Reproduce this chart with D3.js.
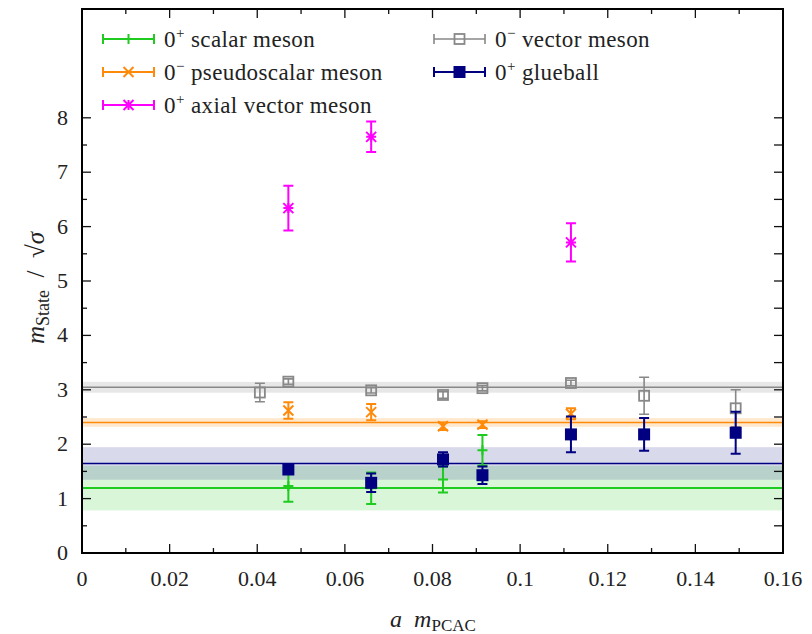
<!DOCTYPE html>
<html>
<head>
<meta charset="utf-8">
<script src="https://cdn.jsdelivr.net/npm/d3@7"></script>
<style>
  body { margin: 0; background: #fff; }
</style>
</head>
<body>
<div id="chart"></div>
<script>
// values
const scalarX = [0.0471, 0.0660, 0.0824, 0.0914]
const scalarY = [1.23, 1.19, 1.35, 1.89]
const scalarErr = [0.29, 0.29, 0.24, 0.28]

const pseudoX = [0.0471, 0.0660, 0.0824, 0.0914, 0.1116]
const pseudoY = [2.62, 2.59, 2.33, 2.36, 2.56]
const pseudoErr = [0.15, 0.15, 0.07, 0.06, 0.10]

const axialX = [0.0471, 0.0660, 0.1116]
const axialY = [6.34, 7.65, 5.71]
const axialErr = [0.41, 0.28, 0.35]

const vectorX = [0.0406, 0.0471, 0.0660, 0.0824, 0.0914, 0.1116, 0.1283, 0.1492]
const vectorY = [2.95, 3.15, 2.99, 2.905, 3.03, 3.125, 2.89, 2.66]
const vectorErr = [0.17, 0.05, 0.05, 0.06, 0.05, 0.05, 0.34, 0.34]

const glueX = [0.0471, 0.0660, 0.0824, 0.0914, 0.1116, 0.1283, 0.1492]
const glueY = [1.535, 1.29, 1.72, 1.43, 2.18, 2.18, 2.21]
const glueErr = [0.08, 0.17, 0.13, 0.16, 0.33, 0.30, 0.385]

// constant fits (value +- error band)
const fitNames = ["scalar", "glueball", "pseudo", "vector"]
const fitValues = [1.193, 1.646, 2.40, 3.046]
const fitErrors = [0.41, 0.30, 0.08, 0.10]

const xTicks = [0, 0.02, 0.04, 0.06, 0.08, 0.1, 0.12, 0.14, 0.16]
const yTicks = [0, 1, 2, 3, 4, 5, 6, 7, 8]

const width = 812, height = 634
const margin = { top: 9, right: 29, bottom: 81, left: 82 }
const serif = "Liberation Serif"
const nb = "\u00a0"

const colors = {
    scalar: "#1ecb1e",
    pseudo: "#ff8a0a",
    axial: "#ff00ff",
    vector: "#888888",
    glueball: "#000080"
}

const svg = d3.select("#chart").append("svg")
    .attr("width", width)
    .attr("height", height)
    .attr("font-family", serif)

const x = d3.scaleLinear().domain([0, 0.16]).range([margin.left, width - margin.right])
const y = d3.scaleLinear().domain([0, 10]).range([height - margin.bottom, margin.top])

// ------------------------------- //
// fit bands and lines
// ------------------------------- //
const bandOpacity = { scalar: 0.17, glueball: 0.15, pseudo: 0.2, vector: 0.2 }
fitNames.forEach(function (name, i) {
    svg.append("rect")
        .attr("x", x(0))
        .attr("width", x(0.16) - x(0))
        .attr("y", y(fitValues[i] + fitErrors[i]))
        .attr("height", y(fitValues[i] - fitErrors[i]) - y(fitValues[i] + fitErrors[i]))
        .attr("fill", colors[name])
        .attr("fill-opacity", bandOpacity[name])
})
fitNames.forEach(function (name, i) {
    svg.append("line")
        .attr("x1", x(0)).attr("x2", x(0.16))
        .attr("y1", y(fitValues[i])).attr("y2", y(fitValues[i]))
        .attr("stroke", colors[name])
        .attr("stroke-width", name === "scalar" ? 2 : 1.6)
})

// ------------------------------- //
// axes (ticks inward, mirrored)
// ------------------------------- //
const axisG = svg.append("g")
const xMinor = d3.range(0, 0.1601, 0.01)
xMinor.forEach(function (v, i) {
    const len = i % 2 === 0 ? 9 : 5
    axisG.append("line").attr("x1", x(v)).attr("x2", x(v))
        .attr("y1", y(0)).attr("y2", y(0) - len).attr("stroke", "#111").attr("stroke-width", 1.3)
    axisG.append("line").attr("x1", x(v)).attr("x2", x(v))
        .attr("y1", y(10)).attr("y2", y(10) + len).attr("stroke", "#111").attr("stroke-width", 1.3)
})
const yMinor = d3.range(0, 8.01, 0.5)
yMinor.forEach(function (v, i) {
    const len = i % 2 === 0 ? 9 : 5
    axisG.append("line").attr("x1", x(0)).attr("x2", x(0) + len)
        .attr("y1", y(v)).attr("y2", y(v)).attr("stroke", "#111").attr("stroke-width", 1.3)
    axisG.append("line").attr("x1", x(0.16)).attr("x2", x(0.16) - 9)
        .attr("y1", y(v)).attr("y2", y(v)).attr("stroke", "#111").attr("stroke-width", 1.3)
})
axisG.selectAll(".xl").data(xTicks).enter().append("text")
    .attr("x", d => x(d)).attr("y", y(0) + 33)
    .attr("text-anchor", "middle")
    .attr("font-size", 22).attr("fill", "#222")
    .text(d => d3.format("~g")(d))
axisG.selectAll(".yl").data(yTicks).enter().append("text")
    .attr("x", x(0) - 14).attr("y", d => y(d) + 7)
    .attr("text-anchor", "end")
    .attr("font-size", 22).attr("fill", "#222")
    .text(d => d)
svg.append("rect")
    .attr("x", x(0)).attr("y", y(10))
    .attr("width", x(0.16) - x(0)).attr("height", y(0) - y(10))
    .attr("fill", "none").attr("stroke", "#000").attr("stroke-width", 2)

// axis titles
const xt = svg.append("text")
    .attr("x", 433).attr("y", 627)
    .attr("text-anchor", "middle")
    .attr("font-size", 24).attr("fill", "#222")
xt.append("tspan").attr("font-style", "italic").text("a" + nb + nb + "m")
xt.append("tspan").attr("dy", 4).attr("font-size", 17).text("PCAC")

const yt = svg.append("text")
    .attr("transform", "translate(44,288) rotate(-90)")
    .attr("text-anchor", "middle")
    .attr("font-size", 25).attr("fill", "#222")
yt.append("tspan").attr("font-style", "italic").text("m")
yt.append("tspan").attr("dy", 5).attr("font-size", 18).text("State")
yt.append("tspan").attr("dy", -5).text(nb + nb + "/" + nb + nb + "√")
yt.append("tspan").attr("font-style", "italic").text("σ")

// ------------------------------- //
// point symbols
// ------------------------------- //
function drawSymbol(g, kind, cx, cy, color) {
    const s = 5
    if (kind === "scalar") {
        g.append("path").attr("d", `M${cx - s},${cy}H${cx + s}M${cx},${cy - s}V${cy + s}`)
            .attr("stroke", color).attr("stroke-width", 2)
    } else if (kind === "pseudo") {
        g.append("path").attr("d", `M${cx - s},${cy - s}L${cx + s},${cy + s}M${cx - s},${cy + s}L${cx + s},${cy - s}`)
            .attr("stroke", color).attr("stroke-width", 2)
    } else if (kind === "axial") {
        g.append("path").attr("d", `M${cx - s},${cy - s}L${cx + s},${cy + s}M${cx - s},${cy + s}L${cx + s},${cy - s}M${cx - s},${cy}H${cx + s}M${cx},${cy - s}V${cy + s}`)
            .attr("stroke", color).attr("stroke-width", 2)
    } else if (kind === "vector") {
        g.append("rect").attr("x", cx - s).attr("y", cy - s).attr("width", 2 * s).attr("height", 2 * s)
            .attr("fill", "none").attr("stroke", color).attr("stroke-width", 1.8)
    } else {
        g.append("rect").attr("x", cx - 6).attr("y", cy - 6).attr("width", 12).attr("height", 12)
            .attr("fill", color)
    }
}

function drawSeries(kind, xs, ys, errs) {
    const color = colors[kind]
    const g = svg.append("g")
    xs.forEach(function (xv, i) {
        const cx = x(xv), cy = y(ys[i])
        const top = y(ys[i] + errs[i]), bot = y(ys[i] - errs[i])
        g.append("path")
            .attr("d", `M${cx},${top}V${bot}M${cx - 5},${top}H${cx + 5}M${cx - 5},${bot}H${cx + 5}`)
            .attr("stroke", color).attr("stroke-width", kind === "vector" ? 1.6 : 2).attr("fill", "none")
        drawSymbol(g, kind, cx, cy, color)
    })
}

drawSeries("scalar", scalarX, scalarY, scalarErr)
drawSeries("pseudo", pseudoX, pseudoY, pseudoErr)
drawSeries("axial", axialX, axialY, axialErr)
drawSeries("vector", vectorX, vectorY, vectorErr)
drawSeries("glueball", glueX, glueY, glueErr)

// ------------------------------- //
// legend
// ------------------------------- //
const legendKinds = ["scalar", "pseudo", "axial", "vector", "glueball"]
const legendSup = ["+", "−", "+", "−", "+"]
const legendText = ["scalar meson", "pseudoscalar meson", "axial vector meson", "vector meson", "glueball"]
legendKinds.forEach(function (kind, i) {
    const col = i < 3 ? 0 : 1
    const row = i < 3 ? i : i - 3
    const lx = col === 0 ? 103 : 434
    const ly = 39 + row * 33
    const color = colors[kind]
    const g = svg.append("g")
    g.append("path")
        .attr("d", `M${lx},${ly}H${lx + 51}M${lx},${ly - 5}V${ly + 5}M${lx + 51},${ly - 5}V${ly + 5}`)
        .attr("stroke", color).attr("stroke-width", kind === "vector" ? 1.6 : 2)
    drawSymbol(g, kind, lx + 25.5, ly, color)
    const t = g.append("text").attr("x", lx + 61).attr("y", ly + 8)
        .attr("font-size", 23).attr("fill", "#222").attr("letter-spacing", 0.4)
    t.append("tspan").text("0")
    t.append("tspan").attr("dy", -9).attr("font-size", 15).text(legendSup[i])
    t.append("tspan").attr("dy", 9).text(" " + legendText[i])
})
</script>
</body>
</html>
